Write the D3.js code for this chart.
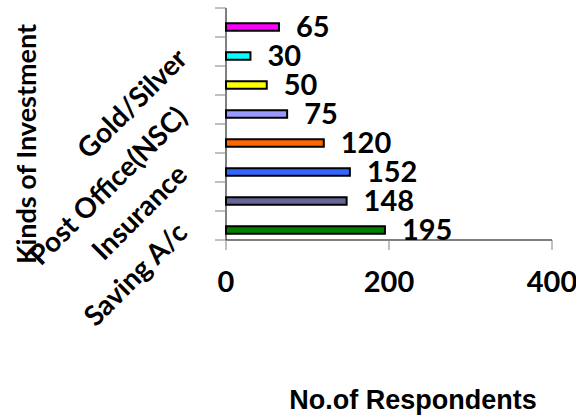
<!DOCTYPE html>
<html>
<head>
<meta charset="utf-8">
<script src="https://cdn.jsdelivr.net/npm/d3@7"></script>
<style>
  html, body { margin: 0; padding: 0; background: #fff; }
  svg { display: block; }
  text { font-family: Lato, "Open Sans", sans-serif; font-weight: bold; fill: #000; }
  .xtitle { font-family: "Liberation Sans", Arial, sans-serif; }
</style>
</head>
<body>
<svg id="chart" width="576" height="419"></svg>
<script>
// Kinds of investment, listed bottom to top
const categories = ["Saving A/c", "Mutual Fund", "Insurance", "Shares", "Post Office(NSC)", "Real Estate", "Gold/Silver", "Others"];
// Only every other category name is printed on the axis
const shownLabels = ["Saving A/c", "Insurance", "Post Office(NSC)", "Gold/Silver"];
const respondents = [195, 148, 152, 120, 75, 50, 30, 65];
const barColors = ["#008000", "#666699", "#3366FF", "#FF6600", "#9999FF", "#FFFF00", "#00FFFF", "#FF00FF"];
const xTicks = [0, 200, 400];
const xTitle = "No.of Respondents";
const yTitle = "Kinds of Investment";

const svg = d3.select("#chart");
const plot = { left: 226, right: 552, top: 8, bottom: 240 };

const x = d3.scaleLinear().domain([0, 400]).range([plot.left, plot.right]);
const y = d3.scaleBand().domain(categories).range([plot.bottom, plot.top]).padding(0);

const barH = 7.5;
const barShift = 4.5;

// x axis: baseline, downward ticks and labels
svg.append("line")
  .attr("x1", plot.left).attr("x2", plot.right)
  .attr("y1", plot.bottom).attr("y2", plot.bottom)
  .attr("stroke", "#000").attr("stroke-width", 1);
svg.selectAll(".xtick").data(xTicks).join("line")
  .attr("class", "xtick")
  .attr("x1", d => x(d)).attr("x2", d => x(d))
  .attr("y1", plot.bottom).attr("y2", plot.bottom + 10)
  .attr("stroke", "#808080").attr("stroke-width", 1);
svg.selectAll(".xlabel").data(xTicks).join("text")
  .attr("class", "xlabel")
  .attr("x", d => x(d)).attr("y", 292)
  .attr("text-anchor", "middle")
  .attr("font-size", 29)
  .text(d => d);

// y axis: line and leftward ticks at band edges
svg.append("line")
  .attr("x1", plot.left).attr("x2", plot.left)
  .attr("y1", plot.top).attr("y2", plot.bottom)
  .attr("stroke", "#000").attr("stroke-width", 1);
const edges = categories.map(c => y(c)).concat([plot.bottom]);
svg.selectAll(".ytick").data(edges).join("line")
  .attr("class", "ytick")
  .attr("x1", plot.left - 11).attr("x2", plot.left)
  .attr("y1", d => d).attr("y2", d => d)
  .attr("stroke", "#808080").attr("stroke-width", 1);

// bars
const center = c => y(c) + y.bandwidth() / 2 + barShift;
svg.selectAll(".bar").data(categories).join("rect")
  .attr("class", "bar")
  .attr("x", x(0))
  .attr("y", c => center(c) - barH / 2)
  .attr("width", (c, i) => x(respondents[i]) - x(0))
  .attr("height", barH)
  .attr("fill", (c, i) => barColors[i])
  .attr("stroke", "#000").attr("stroke-width", 2);

// value labels
svg.selectAll(".val").data(categories).join("text")
  .attr("class", "val")
  .attr("x", (c, i) => x(respondents[i]) + 17)
  .attr("y", c => center(c) + 10)
  .attr("font-size", 29)
  .text((c, i) => respondents[i]);

// category labels, rotated
svg.selectAll(".cat").data(shownLabels).join("text")
  .attr("class", "cat")
  .attr("text-anchor", "end")
  .attr("font-size", 28)
  .attr("transform", c => `translate(189,${y(c) + y.bandwidth() / 2 + 9}) rotate(-45)`)
  .text(c => c);

// axis titles
svg.append("text")
  .attr("class", "xtitle")
  .attr("x", 413).attr("y", 409)
  .attr("text-anchor", "middle")
  .attr("font-size", 27)
  .text(xTitle);
svg.append("text")
  .attr("transform", "translate(36,144) rotate(-90)")
  .attr("text-anchor", "middle")
  .attr("font-size", 27)
  .text(yTitle);
</script>
</body>
</html>
